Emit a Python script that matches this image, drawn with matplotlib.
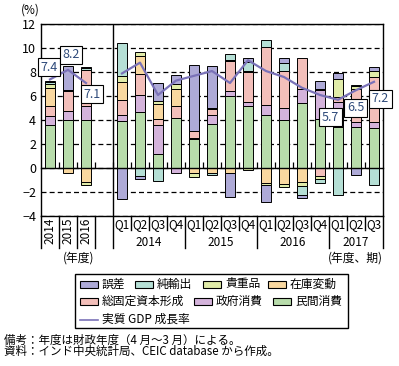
import matplotlib
matplotlib.use('Agg')
import matplotlib.pyplot as plt
import matplotlib.transforms as mtransforms
from matplotlib.patches import Rectangle
from matplotlib.lines import Line2D
import numpy as np

plt.rcParams['font.family'] = ['Noto Sans CJK JP', 'DejaVu Sans']

# ---------------- data ----------------
annual_labels = ['2014', '2015', '2016']
quarter_labels = ['Q1', 'Q2', 'Q3', 'Q4', 'Q1', 'Q2', 'Q3', 'Q4',
                  'Q1', 'Q2', 'Q3', 'Q4', 'Q1', 'Q2', 'Q3']
quarter_years = ['2014', '2015', '2016', '2017']

# values: 3 fiscal years, then 15 quarters (2014Q1 .. 2017Q3)
private_cons = [3.6, 4.05, 4.0,
                3.9, 4.65, 1.2, 4.2, 2.4, 3.7, 6.0, 5.15, 4.45, 4.0, 5.4, 4.1, 3.4, 3.45, 3.35]
gov_cons = [0.75, 0.72, 1.14,
            0.5, 1.42, 2.42, -0.45, 0.11, 0.75, 0.47, 0.36, 0.82, 0.98, 1.17, 2.45, 2.15, 0.36, 0.52]
gfcf = [0.8, 1.64, 3.08,
        1.28, 1.78, 0.5, 0.95, 0.62, 0.5, 2.45, 2.55, 4.8, 3.09, 2.6, -0.64, 0.35, 2.83, 3.77]
inventory = [1.5, -0.42, -1.17,
             1.5, 1.5, 1.22, 1.42, -0.4, -0.42, -0.37, 0.06, -1.21, -1.37, -1.16, 0.05, 0.0, 0.0, 0.0]
valuables = [0.33, 0.05, -0.27,
             0.47, 0.31, 0.3, 0.47, -0.32, 0.06, 0.12, -0.16, -0.19, -0.2, -0.3, -0.25, 1.57, 0.2, 0.5]
net_exports = [0.2, 0.08, 0.17,
               2.75, -0.64, -1.08, 0.0, 0.0, -0.15, 0.47, 0.72, 0.66, 0.69, -0.78, -0.36, -2.25, 0.08, -1.4]
discrepancy = [0.1, 2.0, 0.08,
               -2.58, -0.26, 1.47, 0.69, 5.44, 3.55, -2.03, 0.33, -1.45, 0.41, -0.22, 0.7, 0.43, -0.58, 0.33]

gdp_annual = [7.4, 8.2, 7.1]
gdp_quarterly = [7.9, 8.8, 6.1, 7.3, 7.7, 8.1, 7.1, 9.0, 8.1, 7.6, 6.7, 6.1, 5.7, 6.5, 7.2]

labelled_annual = [0, 1, 2]          # indices of annual points with value boxes
labelled_quarterly = [12, 13, 14]    # indices of quarterly points with value boxes

components = [
    ('民間消費', private_cons, '#b8dcab'),
    ('政府消費', gov_cons, '#d4b3db'),
    ('総固定資本形成', gfcf, '#f3bfba'),
    ('在庫変動', inventory, '#f9d8a0'),
    ('貴重品', valuables, '#e1eca9'),
    ('純輸出', net_exports, '#b5dfd5'),
    ('誤差', discrepancy, '#aeaad7'),
]
line_color = '#7a72b8'

# ---------------- figure ----------------
W, H = 399, 366
fig = plt.figure(figsize=(W / 100, H / 100), dpi=100)
ax_l, ax_r, ax_t, ax_b = 41, 383, 24.3, 216
ax = fig.add_axes([ax_l / W, 1 - ax_b / H, (ax_r - ax_l) / W, (ax_b - ax_t) / H])

xa = np.arange(3)
xq = np.arange(4, 19)
xpos = np.concatenate([xa, xq])

pos_base = np.zeros(len(xpos))
neg_base = np.zeros(len(xpos))
bw = 0.52
for name, vals, col in components:
    v = np.array(vals, dtype=float)
    bottoms = np.where(v >= 0, pos_base, neg_base)
    ax.bar(xpos, v, bw, bottom=bottoms, color=col, edgecolor='black',
           linewidth=0.7, zorder=2)
    pos_base = np.where(v >= 0, pos_base + v, pos_base)
    neg_base = np.where(v < 0, neg_base + v, neg_base)

ax.plot(xa, gdp_annual, color=line_color, lw=1.6, zorder=4)
ax.plot(xq, gdp_quarterly, color=line_color, lw=1.6, zorder=4)

# value boxes
label_offsets_a = [(-1, 12), (3, 15), (6, -11)]
label_offsets_q = [(-7.5, -17.5), (-0.5, -17.5), (6.5, -17)]
box = dict(boxstyle='square,pad=0.2', fc='white', ec='black', lw=0.8)
for i, off in zip(labelled_annual, label_offsets_a):
    ax.annotate(f'{gdp_annual[i]:.1f}', (xa[i], gdp_annual[i]), xytext=off,
                textcoords='offset pixels', ha='center', va='center',
                fontsize=9, color='#2e4a7a', bbox=box, zorder=6,
                annotation_clip=False)
for i, off in zip(labelled_quarterly, label_offsets_q):
    ax.annotate(f'{gdp_quarterly[i]:.1f}', (xq[i], gdp_quarterly[i]), xytext=off,
                textcoords='offset pixels', ha='center', va='center',
                fontsize=9, color='#2e4a7a', bbox=box, zorder=6,
                annotation_clip=False)

ax.set_xlim(-0.5, 18.5)
ax.set_ylim(-4, 12)
ax.set_yticks(range(-4, 13, 2))
ax.tick_params(axis='y', length=0, labelsize=9, pad=3.5)
ax.yaxis.grid(True, linestyle=(0, (4, 2.5)), color='black', lw=0.9)
ax.set_axisbelow(True)

boundaries = np.arange(-0.5, 19, 1.0)
ax.set_xticks(boundaries[1:-1])
ax.set_xticklabels([])
ax.tick_params(axis='x', direction='in', length=4, width=0.9, color='black')
ax.spines['bottom'].set_position(('data', 0))
for s in ax.spines.values():
    s.set_linewidth(1.0)
ax.axhline(-4, color='black', lw=1.0, clip_on=False, zorder=3)
ax.axvline(3.5, color='black', lw=1.0, zorder=3)

# x label table
trans = mtransforms.blended_transform_factory(ax.transData, ax.transAxes)
ph = ax_b - ax_t
def ay(py):
    return -(py - ax_b) / ph

long_b = [-0.5, 0.5, 1.5, 2.5, 3.5, 7.5, 11.5, 15.5, 18.5]
for b in boundaries:
    y_end = ay(248) if b in long_b else ay(230)
    ax.add_line(Line2D([b, b], [0, y_end], transform=trans, color='black',
                       lw=1.0, clip_on=False))
for x, t in zip(xa, annual_labels):
    ax.text(x, ay(230.5), t, transform=trans, rotation=90, ha='center',
            va='center', fontsize=8.5)
for x, t in zip(xq, quarter_labels):
    ax.text(x, ay(225), t, transform=trans, ha='center', va='center', fontsize=8.5)
for cx, t in zip([5.5, 9.5, 13.5, 17.0], quarter_years):
    ax.text(cx, ay(242.5), t, transform=trans, ha='center', va='center', fontsize=8.5)

# overlay in pixel coordinates
ov = fig.add_axes([0, 0, 1, 1], facecolor='none')
ov.set_xlim(0, W)
ov.set_ylim(H, 0)
ov.axis('off')

ov.text(30, 10, '(%)', ha='center', va='center', fontsize=8.5)
ov.text(79, 258, '(年度)', ha='center', va='center', fontsize=8.5)
ov.text(383, 258, '(年度、期)', ha='right', va='center', fontsize=8.5)

# legend box
ov.add_patch(Rectangle((75, 274), 273, 54, fc='white', ec='black', lw=1.0))
cmap = {n: c for n, v, c in components}
rows = [
    (284, [(80, '誤差'), (135, '純輸出'), (203, '貴重品'), (268, '在庫変動')]),
    (301.5, [(80, '総固定資本形成'), (194, '政府消費'), (273, '民間消費')]),
]
for yy, items in rows:
    for px, name in items:
        ov.add_patch(Rectangle((px, yy - 3.5), 18, 7, fc=cmap[name], ec='black', lw=0.8))
        ov.text(px + 22, yy, name, ha='left', va='center', fontsize=8.5)
ov.add_line(Line2D([80, 98], [319.5, 319.5], color=line_color, lw=1.2))
ov.text(102, 319.5, '実質 GDP 成長率', ha='left', va='center', fontsize=8.5)

ov.text(4, 340, '備考：年度は財政年度（4 月～3 月）による。', ha='left', va='center', fontsize=8.3)
ov.text(4, 351.5, '資料：インド中央統計局、CEIC database から作成。', ha='left', va='center', fontsize=8.3)

fig.savefig('out.png', dpi=100)
